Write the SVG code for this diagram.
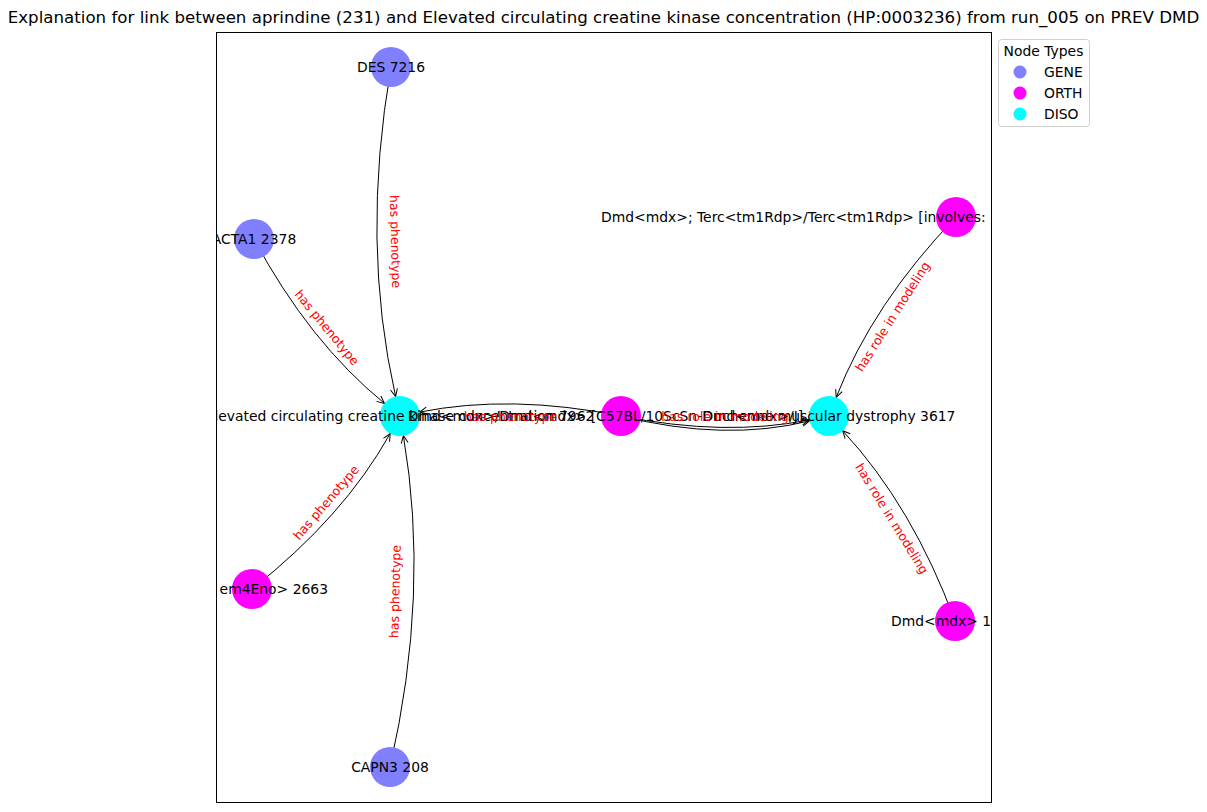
<svg xmlns="http://www.w3.org/2000/svg" width="1207" height="812" viewBox="0 0 1207 812">
<style>
.nl{font-family:"DejaVu Sans",Verdana,sans-serif;font-size:13.9px;fill:#000}
.el{font-family:"DejaVu Sans",Verdana,sans-serif;font-size:12.5px;fill:#ff0000;text-anchor:middle;dominant-baseline:central}
.edge{fill:none;stroke:#000;stroke-width:1;marker-end:url(#arr)}
.gene{fill:#8080ff}.orth{fill:#ff00ff}.diso{fill:#00ffff}
</style>
<defs>
<marker id="arr" markerUnits="userSpaceOnUse" viewBox="-9 -6 11 12" refX="0" refY="0" markerWidth="11" markerHeight="12" orient="auto">
<path d="M-7.5,-3.5 L0,0 L-7.5,3.5" fill="none" stroke="#000" stroke-width="1"/>
</marker>
<clipPath id="ax"><rect x="216" y="32" width="775" height="770"/></clipPath>
</defs>
<rect width="1207" height="812" fill="#fff"/>
<text x="603.5" y="23" text-anchor="middle" style="font-family:'DejaVu Sans',Verdana,sans-serif;font-size:16.67px">Explanation for link between aprindine (231) and Elevated circulating creatine kinase concentration (HP:0003236) from run_005 on PREV DMD</text>
<rect x="216.5" y="32.5" width="775" height="770" fill="none" stroke="#000" stroke-width="1"/>
<g id="connectors">
<path class="edge" d="M391,67 Q360.6,242.4 395.6,396.5"/>
<path class="edge" d="M254,239 Q309.3,342.1 384.5,403.4"/>
<path class="edge" d="M252,589 Q343.3,517.3 390.2,433.5"/>
<path class="edge" d="M390,767 Q430.1,592.5 403.4,435.7"/>
<path class="edge" d="M621,416 Q510.5,393.9 419.6,412.1"/>
<path class="edge" d="M621,416 Q725,436.8 809.4,419.9"/>
<path class="edge" d="M621,416 Q725,442 809.6,420.9"/>
<path class="edge" d="M956,217 Q872.6,303.8 836.2,397.4"/>
<path class="edge" d="M955,621 Q912.5,505.9 842.6,430.7"/>
</g>
<g clip-path="url(#ax)">
<g id="n-des"><circle class="gene" cx="391" cy="67" r="20"/><text class="nl" x="391" y="72" text-anchor="middle">DES 7216</text></g>
<g id="n-acta1"><circle class="gene" cx="254" cy="239" r="20"/><text class="nl" x="254" y="244" text-anchor="middle">ACTA1 2378</text></g>
<g id="n-em4eno"><circle class="orth" cx="252" cy="589" r="20"/><text class="nl" x="328" y="594" text-anchor="end">em4Eno&gt; 2663</text></g>
<g id="n-capn3"><circle class="gene" cx="390" cy="767" r="20"/><text class="nl" x="390" y="772" text-anchor="middle">CAPN3 208</text></g>
<g id="n-elevated"><circle class="diso" cx="400" cy="416" r="20"/><text class="nl" x="400" y="421" text-anchor="middle">Elevated circulating creatine kinase concentration 7962</text></g>
<g id="n-mdxgeno"><circle class="orth" cx="621" cy="416" r="20"/><text class="nl" x="621" y="421" text-anchor="middle">Dmd&lt;mdx&gt;/Dmd&lt;mdx&gt; [C57BL/10ScSn-Dmd&lt;mdx&gt;/J] 288</text></g>
<g id="n-duchenne"><circle class="diso" cx="829" cy="416" r="20"/><text class="nl" x="829" y="421" text-anchor="middle">Duchenne muscular dystrophy 3617</text></g>
<g id="n-terc"><circle class="orth" cx="956" cy="217" r="20"/><text class="nl" x="601" y="222">Dmd&lt;mdx&gt;; Terc&lt;tm1Rdp&gt;/Terc&lt;tm1Rdp&gt; [involves:</text></g>
<g id="n-mdx1"><circle class="orth" cx="955" cy="621" r="20"/><text class="nl" x="891" y="626">Dmd&lt;mdx&gt; 1</text></g>
</g>
<g id="edge-labels">
<text class="el" transform="translate(395.5,241.5) rotate(88.5)">has phenotype</text>
<text class="el" transform="translate(327,327.5) rotate(50.5)">has phenotype</text>
<text class="el" transform="translate(326,502.5) rotate(-49.5)">has phenotype</text>
<text class="el" transform="translate(395,591.5) rotate(-88.4)">has phenotype</text>
<text class="el" transform="translate(510.5,416)">has phenotype</text>
<text class="el" transform="translate(725,416)">has role in modeling</text>
<text class="el" transform="translate(892.5,316.5) rotate(-57.5)">has role in modeling</text>
<text class="el" transform="translate(892,518.5) rotate(58.4)">has role in modeling</text>
</g>
<g id="legend">
<rect x="998.5" y="39.5" width="91" height="87" rx="3" fill="#fff" fill-opacity="0.8" stroke="#d0d0d0"/>
<text class="nl" x="1043.5" y="56" text-anchor="middle">Node Types</text>
<circle class="gene" cx="1020" cy="72" r="6.5"/><text class="nl" x="1044" y="77">GENE</text>
<circle class="orth" cx="1020" cy="93" r="6.5"/><text class="nl" x="1044" y="98">ORTH</text>
<circle class="diso" cx="1020" cy="114" r="6.5"/><text class="nl" x="1044" y="119">DISO</text>
</g>
</svg>
